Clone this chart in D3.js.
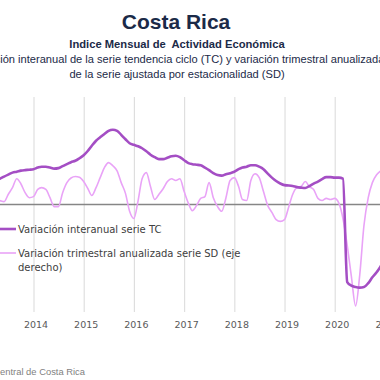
<!DOCTYPE html>
<html lang="es">
  <head>
    <meta charset="UTF-8" />
    <title>Costa Rica - IMAE</title>
    <script src="https://d3js.org/d3.v7.min.js"></script>
    <style>
      body { margin: 0; background: #fff; }
      .line { fill: none; }
      .grid line { stroke: #d9d9d9; stroke-width: 1px; }
      .grid path { display: none; }
      .axis-x text { font-family: "DejaVu Sans", sans-serif; font-size: 9.5px; fill: #595959; }
      .axis-x path, .axis-x line { display: none; }
    </style>
  </head>
  <body>
    <svg id="chart" width="380" height="380"></svg>
    <script>
      // Serie tendencia ciclo, variación interanual (%), mensual desde ene-2013
      const tcValues = [
        1.17, 1.22, 1.28, 1.36, 1.44, 1.56, 1.67, 1.78, 1.83, 1.89, 1.92, 1.94,
        1.97, 2.06, 2.11, 2.11, 2.06, 2.0, 2.03, 2.14, 2.25, 2.36, 2.44, 2.58,
        2.75, 3.0, 3.28, 3.56, 3.75, 3.94, 4.11, 4.17, 4.11, 3.89, 3.64, 3.42,
        3.33, 3.25, 3.14, 2.97, 2.78, 2.64, 2.53, 2.53, 2.61, 2.69, 2.72, 2.64,
        2.47, 2.31, 2.25, 2.22, 2.19, 2.06, 1.92, 1.75, 1.64, 1.61, 1.69, 1.75,
        1.83, 1.97, 2.06, 2.11, 2.19, 2.19, 2.11, 1.97, 1.72, 1.5, 1.31, 1.17,
        1.08, 1.06, 1.03, 0.97, 0.94, 0.92, 1.03, 1.17, 1.28, 1.42, 1.53, 1.53,
        1.5, 1.5, 1.44, -4.33, -4.53, -4.61, -4.64, -4.61, -4.39, -4.06, -3.78, -3.44,
        -3.06
      ];

      // Serie desestacionalizada, variación trimestral anualizada (%)
      const sdValues = [
        2.5, 2.2, 1.7, 1.4, 1.1, 0.8, 2.8, 4.7, 7.2, 5.8, 3.3, 1.9,
        2.2, 4.2, 4.7, 4.2, 1.9, -0.6, -0.6, 3.3, 6.1, 7.4, 7.8, 7.6,
        6.4, 4.4, 2.5, 4.7, 7.5, 10.3, 11.7, 10.8, 9.4, 6.1, 3.1, -1.9,
        -3.9, 1.1, 7.2, 8.9, 5.0, 1.4, 2.8, 4.4, 6.4, 7.2, 6.7, 7.2,
        3.6, 0.3, -1.7, -0.3, 1.7, 2.2, 6.1, 1.9, -0.6, -1.9, 1.9, 6.7,
        7.5, 5.0, 1.4, 1.1, 6.7, 8.6, 7.5, 3.6, -0.3, -2.2, -4.2, -4.7,
        -4.2, -0.6, 2.8, 4.7, 5.0, 6.4, 5.0, 4.2, 1.7, 1.1, 1.7, 1.4,
        1.7, 0.3, -3.9, -11.4, -20.0, -28.3, -19.7, -5.8, 1.9, 6.1, 8.3, 9.4,
        10.3
      ];

      const yearTicks = [2014, 2015, 2016, 2017, 2018, 2019, 2020, 2021];
      const leftTicks = [-6, -4, -2, 0, 2, 4, 6];

      const months = d3.timeMonth.range(new Date(2013, 0, 1), new Date(2021, 1, 2));

      const seriesNames = [
        "Variación interanual serie TC",
        "Variación trimestral anualizada serie SD (eje derecho)"
      ];
      const colors = ["#a44ec4", "#e9a3f7"];

      const svg = d3.select("#chart");
      const plotTop = 97, plotBottom = 312;

      const x = d3
        .scaleTime()
        .domain([new Date(2014, 0, 1), new Date(2020, 0, 1)])
        .range([33.5, 334.7]);

      const yLeft = d3.scaleLinear().domain([-6, 6]).range([plotBottom, plotTop]);
      const yRight = d3.scaleLinear().domain([-30, 30]).range([plotBottom, plotTop]);

      // titles
      svg.append("text")
        .attr("x", 176).attr("y", 29)
        .attr("text-anchor", "middle")
        .style("font-family", "'Liberation Sans', Arial, sans-serif")
        .style("font-size", "21px").style("font-weight", "bold")
        .style("fill", "#1b2a48")
        .text("Costa Rica");

      svg.append("text")
        .attr("x", 177).attr("y", 48)
        .attr("text-anchor", "middle")
        .style("font-family", "'Liberation Sans', Arial, sans-serif")
        .style("font-size", "11.2px").style("font-weight", "bold")
        .style("white-space", "pre")
        .style("fill", "#1b2a48")
        .text("Indice Mensual de  Actividad Económica");

      const sub = [
        "Variación interanual de la serie tendencia ciclo (TC) y variación trimestral anualizada",
        "de la serie ajustada por estacionalidad (SD)"
      ];
      svg.selectAll(".sub")
        .data(sub)
        .enter()
        .append("text")
        .attr("x", 177)
        .attr("y", (d, i) => 63 + i * 15)
        .attr("text-anchor", "middle")
        .style("font-family", "'Liberation Sans', Arial, sans-serif")
        .style("font-size", "11.1px")
        .style("fill", "#1b2a48")
        .text((d) => d);

      // gridlines
      svg.append("g")
        .attr("class", "grid")
        .attr("transform", "translate(390,0)")
        .call(d3.axisLeft(yLeft).tickValues(leftTicks).tickSize(-400).tickFormat(""));

      svg.append("g")
        .attr("class", "grid")
        .attr("transform", `translate(0,${plotBottom})`)
        .call(
          d3.axisBottom(x)
            .tickValues(yearTicks.map((yr) => new Date(yr, 0, 1)))
            .tickSize(-(plotBottom - plotTop))
            .tickFormat("")
        );

      // zero line
      svg.append("line")
        .attr("x1", 0).attr("x2", 380)
        .attr("y1", yLeft(0)).attr("y2", yLeft(0))
        .attr("stroke", "#868686").attr("stroke-width", 1.3);

      // x axis labels
      svg.append("g")
        .attr("class", "axis-x")
        .attr("transform", `translate(2,${plotBottom + 3})`)
        .call(
          d3.axisBottom(x)
            .tickValues(yearTicks.map((yr) => new Date(yr, 0, 1)))
            .tickFormat(d3.timeFormat("%Y"))
            .tickSize(0)
            .tickPadding(6)
        );

      const sdData = months.map((m, i) => ({ date: m, v: sdValues[i] }));
      const tcData = months.map((m, i) => ({ date: m, v: tcValues[i] }));

      const lineRight = d3.line()
        .x((d) => x(d.date))
        .y((d) => yRight(d.v))
        .curve(d3.curveMonotoneX);

      const lineLeft = d3.line()
        .x((d) => x(d.date))
        .y((d) => yLeft(d.v))
        .curve(d3.curveMonotoneX);

      svg.append("path")
        .datum(sdData)
        .attr("class", "line")
        .attr("stroke", colors[1])
        .attr("stroke-width", 1.6)
        .attr("d", lineRight);

      svg.append("path")
        .datum(tcData)
        .attr("class", "line")
        .attr("stroke", colors[0])
        .attr("stroke-width", 2.6)
        .attr("d", lineLeft);

      // legend
      const legend = svg.append("g");
      const legendFont = "'DejaVu Sans', sans-serif";

      legend.append("line")
        .attr("x1", 0).attr("x2", 16).attr("y1", 229).attr("y2", 229)
        .attr("stroke", colors[0]).attr("stroke-width", 2.6);
      legend.append("text")
        .attr("x", 18).attr("y", 232.5)
        .style("font-family", legendFont).style("font-size", "10px")
        .style("fill", "#404040")
        .text(seriesNames[0]);

      legend.append("line")
        .attr("x1", 0).attr("x2", 16).attr("y1", 253).attr("y2", 253)
        .attr("stroke", colors[1]).attr("stroke-width", 1.6);
      const t2 = legend.append("text")
        .style("font-family", legendFont).style("font-size", "10px")
        .style("fill", "#404040");
      t2.append("tspan").attr("x", 18).attr("y", 256.5)
        .text("Variación trimestral anualizada serie SD (eje");
      t2.append("tspan").attr("x", 18).attr("y", 270.5).text("derecho)");

      // source
      svg.append("text")
        .attr("x", 85).attr("y", 375)
        .attr("text-anchor", "end")
        .style("font-family", "'Liberation Sans', Arial, sans-serif")
        .style("font-size", "9.4px")
        .style("fill", "#7f7f7f")
        .text("Fuente: Banco Central de Costa Rica");
    </script>
  </body>
</html>
